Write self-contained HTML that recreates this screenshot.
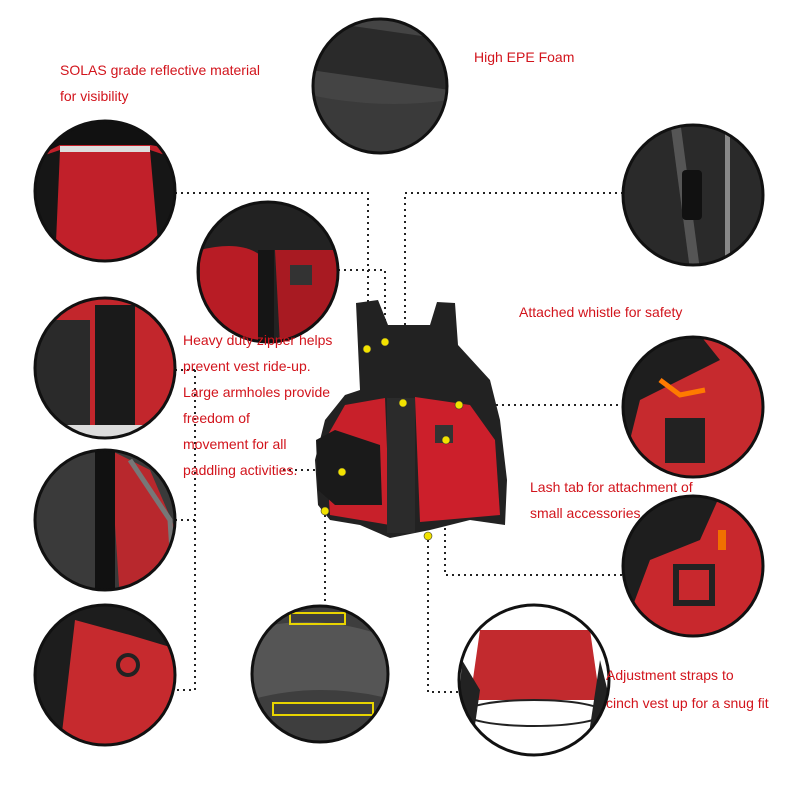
<!DOCTYPE html>
<html><head><style>
body{margin:0;width:800px;height:800px;background:#fff;position:relative;overflow:hidden;font-family:"Liberation Sans",sans-serif}
.t{position:absolute;color:#d2141c;font-size:14px;line-height:26px;white-space:nowrap}
</style></head><body>
<svg width="800" height="800" style="position:absolute;left:0;top:0">
<defs>
<clipPath id="c1"><circle cx="380" cy="86" r="67"/></clipPath>
<clipPath id="c2"><circle cx="105" cy="191" r="70"/></clipPath>
<clipPath id="c3"><circle cx="268" cy="272" r="70"/></clipPath>
<clipPath id="c4"><circle cx="693" cy="195" r="70"/></clipPath>
<clipPath id="c5"><circle cx="105" cy="368" r="70"/></clipPath>
<clipPath id="c6"><circle cx="105" cy="520" r="70"/></clipPath>
<clipPath id="c7"><circle cx="105" cy="675" r="70"/></clipPath>
<clipPath id="c8"><circle cx="320" cy="674" r="68"/></clipPath>
<clipPath id="c9"><circle cx="534" cy="680" r="75"/></clipPath>
<clipPath id="c10"><circle cx="693" cy="407" r="70"/></clipPath>
<clipPath id="c11"><circle cx="693" cy="566" r="70"/></clipPath>
</defs>
<g stroke="#222" stroke-width="2" stroke-dasharray="2 4" fill="none">
<path d="M175 193H368V340"/>
<path d="M623 193H405V400"/>
<path d="M338 270H385V330"/>
<path d="M175 370H195"/>
<path d="M195 370V690H175"/>
<path d="M175 520H195"/>
<path d="M460 405H623"/>
<path d="M445 450V575H623"/>
<path d="M315 470H280"/>
<path d="M325 515V605"/>
<path d="M428 540V692H460"/>
</g>
<g clip-path="url(#c1)"><rect x="300" y="10" width="160" height="160" fill="#444"/><path d="M310 20L450 40L450 90L310 70Z" fill="#2a2a2a"/><path d="M310 95Q380 110 450 100L450 160L310 160Z" fill="#3a3a3a"/></g>
<g clip-path="url(#c2)"><rect x="30" y="115" width="150" height="150" fill="#c1202a"/><path d="M30 115H180V150L150 145L60 145L30 160Z" fill="#111"/><rect x="60" y="146" width="90" height="6" fill="#ddd"/><path d="M30 160L60 150L55 265H30Z" fill="#161616"/><path d="M150 150L180 160V265H160Z" fill="#161616"/></g>
<g clip-path="url(#c3)"><rect x="195" y="200" width="150" height="145" fill="#222"/><path d="M200 250Q240 240 260 255L270 345H200Z" fill="#b81c25"/><path d="M275 250L340 250L340 345L280 345Z" fill="#a81a22"/><rect x="258" y="250" width="16" height="95" fill="#151515"/><rect x="290" y="265" width="22" height="20" fill="#333"/></g>
<g clip-path="url(#c4)"><rect x="620" y="120" width="150" height="150" fill="#2a2a2a"/><path d="M680 120L700 270H690L670 120Z" fill="#555"/><rect x="682" y="170" width="20" height="50" rx="4" fill="#111"/><rect x="725" y="120" width="5" height="150" fill="#888"/></g>
<g clip-path="url(#c5)"><rect x="30" y="295" width="150" height="150" fill="#c2262c"/><rect x="30" y="320" width="60" height="110" fill="#2a2a2a"/><rect x="95" y="305" width="40" height="120" fill="#1a1a1a"/><rect x="40" y="425" width="140" height="20" fill="#ddd"/></g>
<g clip-path="url(#c6)"><rect x="30" y="445" width="150" height="150" fill="#3a3a3a"/><path d="M110 450L150 470L180 540V600H120Z" fill="#b8282d"/><rect x="95" y="450" width="20" height="150" fill="#111"/><path d="M130 460L170 520L175 600" stroke="#777" stroke-width="5" fill="none"/></g>
<g clip-path="url(#c7)"><rect x="30" y="600" width="150" height="150" fill="#c62a2e"/><path d="M30 600H180V650L130 635L75 620L60 750H30Z" fill="#1d1d1d"/><circle cx="128" cy="665" r="10" fill="none" stroke="#222" stroke-width="4"/></g>
<g clip-path="url(#c8)"><rect x="250" y="600" width="145" height="150" fill="#3e3e3e"/><path d="M250 630Q320 610 395 640V700Q320 680 250 700Z" fill="#555"/><rect x="290" y="613" width="55" height="11" fill="none" stroke="#e8d400" stroke-width="2"/><rect x="273" y="703" width="100" height="12" fill="none" stroke="#e8d400" stroke-width="2"/></g>
<g clip-path="url(#c9)"><rect x="455" y="600" width="160" height="160" fill="#fff"/><path d="M480 630L590 630L600 700L470 700Z" fill="#c22a2e"/><path d="M462 660L480 690L470 760H455Z" fill="#222"/><path d="M600 660L610 700L610 760H585Z" fill="#222"/><ellipse cx="534" cy="713" rx="70" ry="13" fill="none" stroke="#222" stroke-width="2"/></g>
<g clip-path="url(#c10)"><rect x="620" y="335" width="150" height="150" fill="#c62a2e"/><path d="M620 335H700L720 360L640 400L620 480Z" fill="#1e1e1e"/><rect x="665" y="418" width="40" height="45" fill="#222"/><path d="M660 380L680 395L705 390" stroke="#ff7a00" stroke-width="5" fill="none"/></g>
<g clip-path="url(#c11)"><rect x="620" y="495" width="150" height="145" fill="#c8282d"/><path d="M620 495H720L700 540L650 560L620 640Z" fill="#1e1e1e"/><rect x="676" y="567" width="36" height="36" fill="none" stroke="#222" stroke-width="6"/><rect x="718" y="530" width="8" height="20" fill="#f07000"/></g>
<g fill="none" stroke="#111" stroke-width="3">
<circle cx="380" cy="86" r="67"/><circle cx="105" cy="191" r="70"/><circle cx="268" cy="272" r="70"/><circle cx="693" cy="195" r="70"/><circle cx="105" cy="368" r="70"/><circle cx="105" cy="520" r="70"/><circle cx="105" cy="675" r="70"/><circle cx="320" cy="674" r="68"/><circle cx="534" cy="680" r="75"/><circle cx="693" cy="407" r="70"/><circle cx="693" cy="566" r="70"/>
</g>
<!-- vest -->
<path d="M356 303L378 300L388 325L430 325L437 302L455 303L458 345L490 380L500 420L507 480L505 525L470 520L430 530L390 538L360 525L330 520L318 505L315 460L325 420L345 395L360 390Z" fill="#222"/>
<path d="M345 405L385 398L390 525L330 515L325 440Z" fill="#c8202a"/>
<path d="M415 397L470 405L495 440L500 515L420 522Z" fill="#cc1f2b"/>
<path d="M316 440L335 430L380 445L382 505L335 505L318 490Z" fill="#1a1a1a"/>
<rect x="387" y="398" width="28" height="135" fill="#2b2b2b"/>
<rect x="435" y="425" width="18" height="18" fill="#333"/>
<g fill="#f2e200" stroke="#333" stroke-width="0.6" font-size="7" font-family="Liberation Sans">
<circle cx="367" cy="349" r="4"/><circle cx="385" cy="342" r="4"/><circle cx="403" cy="403" r="4"/><circle cx="459" cy="405" r="4"/><circle cx="446" cy="440" r="4"/><circle cx="342" cy="472" r="4"/><circle cx="325" cy="511" r="4"/><circle cx="428" cy="536" r="4"/>
</g>
</svg>
<div class="t" style="left:60px;top:57px">SOLAS grade reflective material<br>for visibility</div>
<div class="t" style="left:474px;top:44px">High EPE Foam</div>
<div class="t" style="left:519px;top:299px">Attached whistle for safety</div>
<div class="t" style="left:183px;top:327px;line-height:26px">Heavy duty zipper helps<br>prevent vest ride-up.<br>Large armholes provide<br>freedom of<br>movement for all<br>paddling activities.</div>
<div class="t" style="left:530px;top:474px">Lash tab for attachment of<br>small accessories</div>
<div class="t" style="left:606px;top:661px;line-height:28px">Adjustment straps to<br>cinch vest up for a snug fit</div>
</body></html>
